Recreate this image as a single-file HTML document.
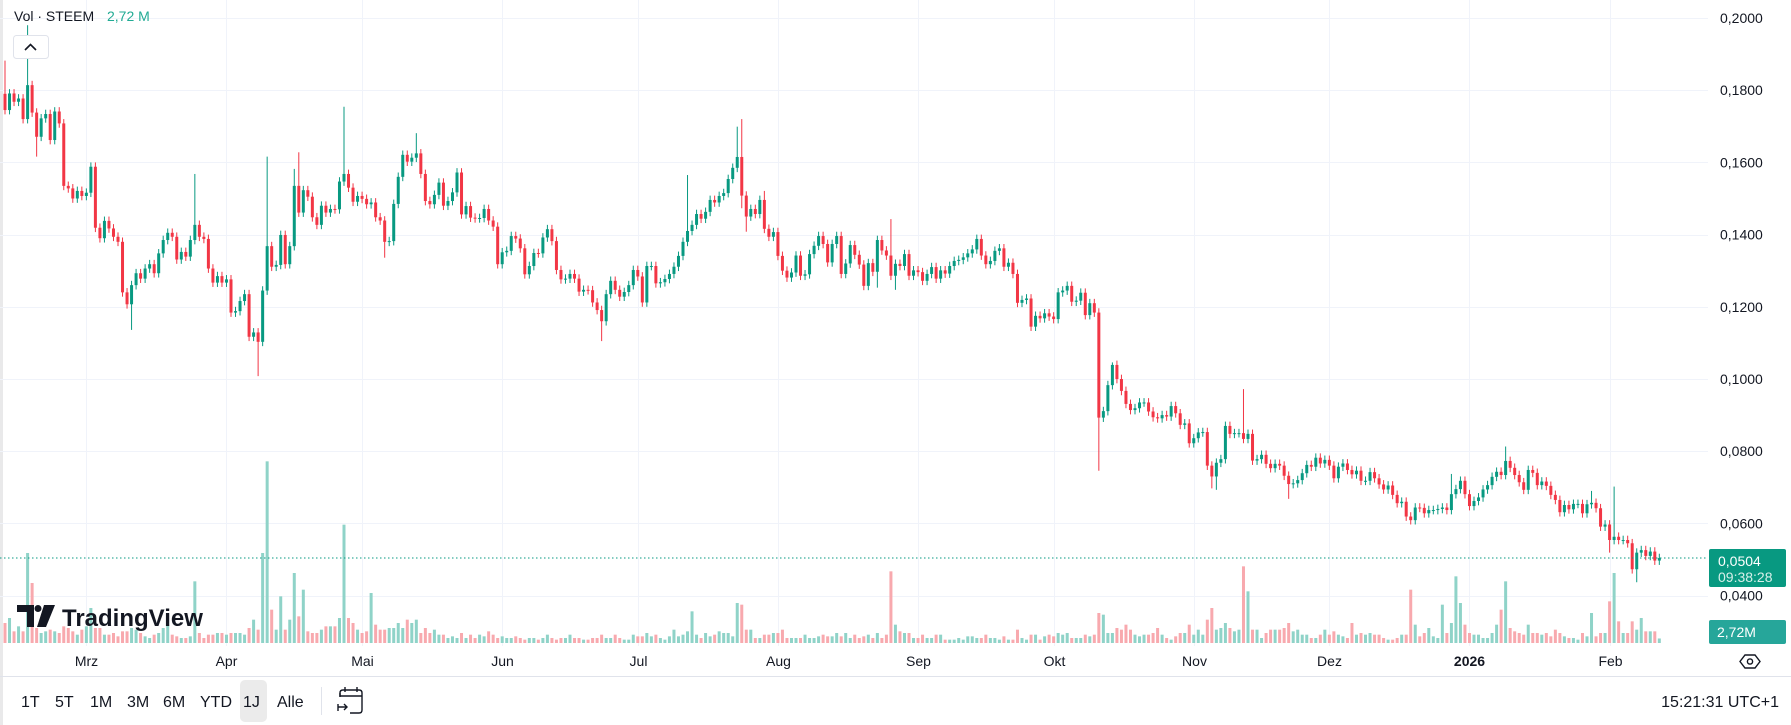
<!DOCTYPE html>
<html><head><meta charset="utf-8">
<style>
html,body{margin:0;padding:0;background:#fff;}
body{width:1791px;height:725px;overflow:hidden;font-family:"Liberation Sans",sans-serif;}
svg{display:block;}
text{font-family:"Liberation Sans",sans-serif;}
</style></head>
<body>
<svg id="chart" width="1791" height="725" viewBox="0 0 1791 725" xmlns="http://www.w3.org/2000/svg">
  <rect x="0" y="0" width="1791" height="725" fill="#ffffff"/>
  <rect x="0" y="0" width="3" height="725" fill="#e9e9ea"/>
  <g id="grid"></g>
  <g id="vols"></g>
  <g id="candles"></g>
  <g id="axis"></g>
  <g id="timeaxis"></g>

  <line x1="0" y1="558" x2="1708" y2="558" stroke="#089981" stroke-width="1" stroke-dasharray="1.5 2.5"/>
  <g>
    <rect x="1709" y="549" width="77" height="38" rx="2" fill="#089981"/>
    <text x="1718" y="566" font-size="14" fill="#ffffff">0,0504</text>
    <text x="1718" y="582" font-size="14" fill="#d7efe9">09:38:28</text>
  </g>
  <g>
    <rect x="1709" y="620" width="77" height="24" rx="2" fill="#26a69a"/>
    <text x="1717" y="637" font-size="14" fill="#ffffff">2,72M</text>
  </g>

  <text x="14" y="21" font-size="14" fill="#131722">Vol · STEEM</text>
  <text x="107" y="21" font-size="14" fill="#22ab94">2,72 M</text>
  <g>
    <rect x="13.5" y="35.5" width="35" height="23" rx="3" fill="#fff" stroke="#e0e3eb"/>
    <path d="M25 50 L30.5 44.5 L36 50" fill="none" stroke="#131722" stroke-width="1.6"/>
  </g>

  <g>
    <path d="M17 605 H34 V627 H27 V612 H17 Z" fill="#131722"/>
    <circle cx="38" cy="608.5" r="3.5" fill="#131722"/>
    <path d="M44 605 H55 L46 627 H37 Z" fill="#131722"/>
    <text x="62" y="626" font-size="24" font-weight="bold" fill="#131722">TradingView</text>
  </g>

  <line x1="0" y1="676.5" x2="1791" y2="676.5" stroke="#e0e3eb"/>
  <g font-size="16" fill="#131722">
    <rect x="240" y="680" width="27" height="42" rx="5" fill="#ebebeb"/>
    <text x="21" y="707">1T</text>
    <text x="55" y="707">5T</text>
    <text x="90" y="707">1M</text>
    <text x="127" y="707">3M</text>
    <text x="163" y="707">6M</text>
    <text x="200" y="707">YTD</text>
    <text x="243" y="707">1J</text>
    <text x="277" y="707">Alle</text>
    <line x1="321.5" y1="687" x2="321.5" y2="715" stroke="#e0e3eb"/>
    <g fill="none" stroke="#131722" stroke-width="1.4">
      <path d="M340 697 V693 Q340 690 343 690 H359 Q362 690 362 693 V710 Q362 713 359 713 H350"/>
      <path d="M340 693 V696 H362"/>
      <path d="M345 687 V692 M357 687 V692"/>
      <path d="M338 707 H347 M344 704 L347 707 L344 710"/>
      <path d="M338 704 V711"/>
    </g>
    <text x="1779" y="707" text-anchor="end">15:21:31 UTC+1</text>
  </g>
  <g fill="none" stroke="#131722" stroke-width="1.4">
    <path d="M1745 655 L1755 655 L1760 661.5 L1755 668 L1745 668 L1740 661.5 Z"/>
    <circle cx="1750" cy="661.5" r="2.6"/>
  </g>
</svg>
<script>
// ---- data ----
const startDate = "2025-02-11";
const closes = [1745,1791,1768,1777,1720,1814,1738,1671,1722,1734,1662,1741,1708,1535,1528,1500,1521,1507,1516,1588,1419,1390,1438,1417,1394,1380,1240,1207,1260,1293,1278,1306,1318,1293,1348,1385,1405,1394,1331,1352,1339,1385,1427,1394,1388,1306,1267,1285,1267,1276,1184,1188,1216,1235,1117,1129,1103,1245,1368,1311,1316,1399,1318,1368,1535,1461,1523,1505,1448,1427,1480,1461,1471,1470,1547,1568,1530,1491,1507,1499,1484,1489,1448,1439,1380,1382,1485,1560,1621,1602,1613,1625,1568,1493,1484,1510,1544,1480,1493,1517,1572,1456,1479,1447,1445,
1446,1471,1439,1422,1318,1351,1355,1396,1389,1362,1290,1313,1349,1348,1392,1415,1382,1302,1276,1278,1291,1278,1242,1247,1246,1212,1191,1160,1235,1272,1247,1228,1241,1260,1302,1284,1212,1313,1313,1265,1268,1277,1291,1311,1341,1380,1410,1427,1457,1444,1463,1496,1489,1507,1515,1554,1585,1615,1508,1450,1471,1457,1496,1416,1394,1407,1341,1300,1281,1295,1342,1286,1290,1346,1369,1396,1374,1323,1374,1396,1291,1320,1371,1344,1317,1258,1321,1297,1385,1356,1342,1286,1319,1313,1346,1286,1301,1296,1272,1291,1310,1278,1301,1292,1313,1327,1330,1337,1348,
1359,1388,1342,1318,1327,1355,1362,1311,1322,1291,1211,1219,1223,1145,1175,1168,1182,1173,1166,1240,1245,1258,1214,1217,1239,1177,1210,1184,893,911,983,1039,1000,967,931,914,919,935,935,910,894,891,900,896,925,905,873,877,822,836,852,853,760,730,768,778,870,848,850,850,834,848,774,778,790,765,753,765,760,732,709,711,720,739,762,757,782,766,776,760,725,757,766,748,736,746,718,718,742,725,708,694,705,679,656,660,619,609,644,643,628,637,637,640,644,637,681,695,718,681,648,662,672,
694,706,729,743,734,773,754,734,714,693,748,740,706,716,704,679,665,631,651,639,654,654,628,653,657,642,591,597,554,563,554,554,545,473,519,526,510,522,497,504];
const firstOpen = 1790;
const wickHighs = {0:1882,5:1980,42:1568,58:1616,64:1582,65:1628,75:1754,91:1681,151:1565,162:1699,163:1720,168:1521,196:1443,245:1046,274:972,320:737,332:813,351:690,356:702};
const wickLows = {7:1616,28:1136,56:1008,84:1336,132:1105,163:1473,164:1408,193:1253,197:1247,242:746,267:697,268:693,284:668,355:519,361:437};
const volumes = [12,15,7,10,7,54,36,9,6,7,8,7,6,10,9,7,5,8,10,21,9,9,5,5,6,4,7,7,9,8,6,4,3,5,6,9,11,5,4,3,3,4,37,6,3,5,5,6,6,5,6,6,6,5,9,14,8,54,109,20,8,28,8,14,42,16,32,7,6,6,8,10,10,10,15,71,15,12,8,6,7,30,11,8,8,9,9,12,9,14,12,14,6,9,6,8,5,5,3,4,3,6,3,5,3,5,4,7,5,3,4,3,3,4,3,2,3,3,2,3,5,3,2,3,3,5,3,3,2,2,3,3,5,3,3,5,3,2,2,5,4,4,6,4,5,3,2,4,8,4,5,7,19,5,3,6,4,5,7,6,6,4,24,23,8,8,3,3,5,5,6,6,8,3,3,3,3,5,3,3,4,5,4,4,6,4,6,3,5,3,4,
5,3,6,3,5,43,11,7,6,6,3,3,5,3,3,5,5,2,2,2,3,2,4,4,3,3,5,3,3,2,4,2,2,8,3,2,5,5,2,4,5,4,6,5,6,3,3,3,5,4,5,18,17,6,6,9,8,11,8,5,4,5,5,6,9,5,3,2,4,6,6,11,5,8,5,14,21,8,9,12,9,7,8,46,31,8,8,3,6,8,8,8,9,12,7,8,5,5,3,3,5,8,5,7,5,4,3,12,5,6,5,6,5,5,3,2,2,3,5,5,32,11,4,6,9,4,3,23,6,12,40,24,11,6,5,5,3,3,6,11,20,37,9,7,6,5,11,6,6,5,6,4,8,6,4,3,3,2,6,4,18,4,6,6,25,42,13,6,6,13,8,15,7,7,7,2.72];
const priceTicks = [0.20,0.18,0.16,0.14,0.12,0.10,0.08,0.06,0.04];
const monthLabels = ["Mrz","Apr","Mai","Jun","Jul","Aug","Sep","Okt","Nov","Dez","2026","Feb"];
const monthStartIdx = [18,49,79,110,140,171,202,232,263,293,324,355];

// ---- scales ----
const NS = "http://www.w3.org/2000/svg";
const PLOT_RIGHT = 1708;
function yScale(p){ return 18 + (0.2 - p) * 3610; }
function xScale(i){ return 5 + i * 4.52; }
const VOL_BASE = 643;
function volH(v){ return v * 5 / 3; }
function mk(tag, attrs, parent){
  const e = document.createElementNS(NS, tag);
  for (const k in attrs) e.setAttribute(k, attrs[k]);
  parent.appendChild(e);
  return e;
}
const grid = document.getElementById('grid');
const axis = document.getElementById('axis');
const timeaxis = document.getElementById('timeaxis');
const vols = document.getElementById('vols');
const cg = document.getElementById('candles');

priceTicks.forEach(function(p){
  const y = Math.round(yScale(p)) + 0.5;
  const l = mk('line', {x1:0, x2:PLOT_RIGHT, y1:y, y2:y, stroke:'#f0f3fa', 'stroke-width':1}, grid);
  
  
  const t = mk('text', {x:1720, y:yScale(p)+5, 'font-size':14, fill:'#131722'}, axis);
  t.textContent = p.toFixed(4).replace('.', ',');
  
  
});
monthLabels.forEach(function(m, k){
  const x = Math.round(xScale(monthStartIdx[k])) + 0.5;
  const l = mk('line', {x1:x, x2:x, y1:0, y2:646, stroke:'#f0f3fa', 'stroke-width':1}, grid);
  
  
  const t = mk('text', {x:x, y:666, 'font-size':14, fill:'#131722', 'text-anchor':'middle', 'font-weight': m === '2026' ? 'bold' : 'normal'}, timeaxis);
  t.textContent = m;
  
  
});

closes.forEach(function(c4, i){
  const o = (i === 0 ? firstOpen : closes[i-1]) / 10000;
  const c = c4 / 10000;
  const up = c >= o;
  const top = Math.max(o, c), bot = Math.min(o, c);
  const hi = (wickHighs[i] !== undefined) ? wickHighs[i]/10000 : top + 0.0012;
  const lo = (wickLows[i] !== undefined) ? wickLows[i]/10000 : bot - 0.0012;
  const x = xScale(i);
  const col = up ? '#089981' : '#f23645';
  // volume
  if (i < volumes.length) {
    const h = volH(volumes[i]);
    const vb = mk('rect', {x:x-1.5, y:VOL_BASE-h, width:3, height:h, fill: up ? '#8fd3c8' : '#f8a9ae'}, vols);
    
    
  }
  const w = mk('line', {x1:x, x2:x, y1:yScale(hi), y2:yScale(lo), stroke:col, 'stroke-width':1}, cg);
  
  
  const by = yScale(top), bh = Math.max(1, yScale(bot) - yScale(top));
  const b = mk('rect', {x:x-1.5, y:by, width:3, height:bh, fill:col}, cg);
  
  
});
</script>
</body></html>
